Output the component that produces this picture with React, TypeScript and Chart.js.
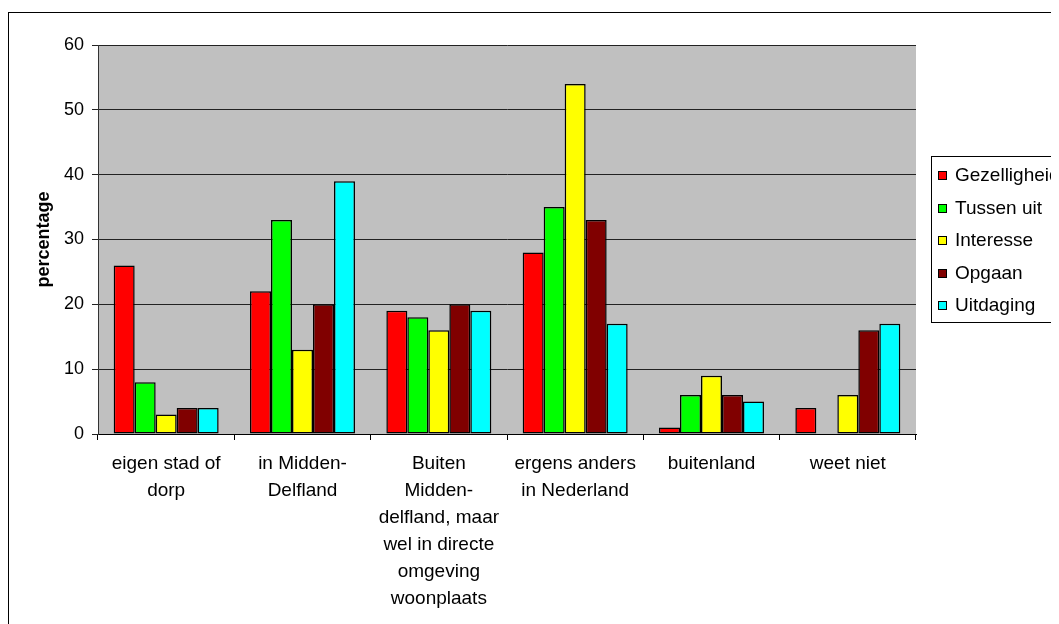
import React, { useEffect, useRef } from "react";
import { Chart, registerables } from "chart.js";
Chart.register(...registerables);

const categories: string[][] = [
  ["eigen stad of", "dorp"],
  ["in Midden-", "Delfland"],
  ["Buiten", "Midden-", "delfland, maar", "wel in directe", "omgeving", "woonplaats"],
  ["ergens anders", "in Nederland"],
  ["buitenland"],
  ["weet niet"],
];
const gezelligheid = [26, 22, 19, 28, 1, 4];
const tussenUit = [8, 33, 18, 35, 6, 0];
const interesse = [3, 13, 16, 54, 9, 6];
const opgaan = [4, 20, 20, 33, 6, 16];
const uitdaging = [4, 39, 19, 17, 5, 17];
const seriesNames = ["Gezelligheid", "Tussen uit", "Interesse", "Opgaan", "Uitdaging"];
const seriesColors = ["#FF0000", "#00FF00", "#FFFF00", "#800000", "#00FFFF"];
const yMin = 0;
const yMax = 60;
const yStep = 10;
const yTitle = "percentage";

const FONT = '"Liberation Sans", Arial, sans-serif';

const bgPlugin = {
  id: "bgPlugin",
  beforeDraw(chart: any) {
    const { ctx, chartArea } = chart;
    ctx.save();
    ctx.fillStyle = "#FFFFFF";
    ctx.fillRect(0, 0, chart.width, chart.height);
    ctx.strokeStyle = "#000000";
    ctx.lineWidth = 1;
    ctx.strokeRect(0.5, 4.5, 3000, 3000);
    ctx.fillStyle = "#C0C0C0";
    ctx.fillRect(chartArea.left, chartArea.top, chartArea.right - chartArea.left, chartArea.bottom - chartArea.top);
    ctx.restore();
  },
};

const legendPlugin = {
  id: "legendPlugin",
  afterDraw(chart: any) {
    const ctx = chart.ctx;
    ctx.save();
    ctx.strokeStyle = "#000000";
    ctx.lineWidth = 1;
    ctx.fillStyle = "#FFFFFF";
    ctx.fillRect(923.5, 148.5, 300, 166);
    ctx.strokeRect(923.5, 148.5, 300, 166);
    chart.data.datasets.forEach((ds: any, i: number) => {
      const cy = 167 + i * 32.5;
      ctx.fillStyle = ds.backgroundColor;
      ctx.fillRect(930, Math.round(cy - 4), 9, 9);
      ctx.strokeRect(930.5, Math.round(cy - 4) + 0.5, 8, 8);
      ctx.fillStyle = "#000000";
      ctx.font = `19px ${FONT}`;
      ctx.textBaseline = "middle";
      ctx.textAlign = "left";
      ctx.fillText(ds.label, 947, cy + 1);
    });
    ctx.restore();
  },
};

export default function App() {
  const ref = useRef<HTMLCanvasElement | null>(null);
  useEffect(() => {
    document.documentElement.style.overflow = "hidden";
    document.body.style.overflow = "hidden";
    const series = [gezelligheid, tussenUit, interesse, opgaan, uitdaging];
    const chart = new Chart(ref.current as HTMLCanvasElement, {
      type: "bar",
      data: {
        labels: categories,
        datasets: series.map((d, i) => ({
          label: seriesNames[i],
          data: d,
          backgroundColor: seriesColors[i],
          borderColor: "#000000",
          borderWidth: 1.5,
          borderSkipped: false,
          barPercentage: 1,
          categoryPercentage: 0.77,
        })),
      },
      options: {
        animation: false,
        responsive: false,
        devicePixelRatio: 1,
        layout: { padding: { left: 0, top: 37, right: 172, bottom: 0 } },
        plugins: { legend: { display: false }, tooltip: { enabled: false } },
        scales: {
          x: {
            grid: {
              offset: true,
              drawOnChartArea: false,
              drawTicks: true,
              tickLength: 6,
              color: "#000000",
            },
            border: { color: "#000000", width: 1 },
            ticks: {
              color: "#000000",
              font: { family: FONT, size: 19, lineHeight: 1.42 },
              padding: 10,
              maxRotation: 0,
              minRotation: 0,
              autoSkip: false,
            },
            afterFit(scale: any) {
              scale.height = 214;
            },
          },
          y: {
            min: yMin,
            max: yMax,
            ticks: {
              stepSize: yStep,
              color: "#000000",
              font: { family: FONT, size: 18 },
              padding: 8,
            },
            grid: { color: "#222222", tickLength: 6, lineWidth: 1 },
            border: { color: "#333333", width: 1 },
            title: {
              display: true,
              text: yTitle,
              color: "#000000",
              font: { family: FONT, size: 18, weight: "bold" },
              padding: { top: 25, bottom: 0 },
            },
            afterFit(scale: any) {
              scale.width = 90;
            },
          },
        },
      },
      plugins: [bgPlugin, legendPlugin],
    });
    return () => chart.destroy();
  }, []);
  return (
    <div style={{ width: 1051, height: 616, overflow: "hidden" }}>
      <canvas ref={ref} width={1080} height={640} style={{ display: "block", width: 1080, height: 640 }} />
    </div>
  );
}
